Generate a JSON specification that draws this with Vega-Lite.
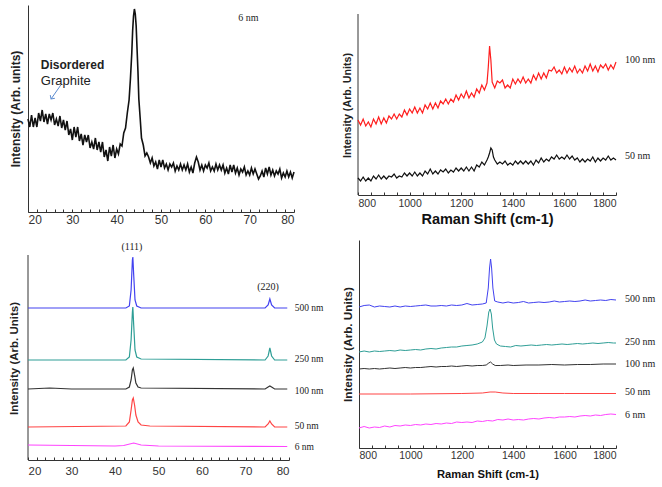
{
"$schema": "https://vega.github.io/schema/vega-lite/v6.json",
"padding": {"left": 8, "top": 5, "right": 0, "bottom": 0},
"background": "white",
"config": {
  "view": {"stroke": null},
  "axis": {"grid": false, "domainColor": "#333", "tickColor": "#333", "labelColor": "#333", "labelFont": "Liberation Sans", "titleFont": "Liberation Sans", "titleColor": "#222", "titleFontWeight": "bold"}
},
"datasets": {
"p1": [{"x":20.0,"y":93},{"x":20.4,"y":85},{"x":20.8,"y":97},{"x":21.2,"y":85},{"x":21.6,"y":94},{"x":22.0,"y":85},{"x":22.4,"y":99},{"x":22.8,"y":91},{"x":23.2,"y":102},{"x":23.6,"y":90},{"x":24.0,"y":98},{"x":24.4,"y":88},{"x":24.8,"y":98},{"x":25.2,"y":92},{"x":25.6,"y":99},{"x":26.0,"y":87},{"x":26.4,"y":93},{"x":26.8,"y":86},{"x":27.2,"y":96},{"x":27.6,"y":84},{"x":28.0,"y":92},{"x":28.4,"y":82},{"x":28.8,"y":91},{"x":29.2,"y":77},{"x":29.6,"y":83},{"x":30.0,"y":72},{"x":30.4,"y":85},{"x":30.8,"y":75},{"x":31.2,"y":85},{"x":31.6,"y":71},{"x":32.0,"y":78},{"x":32.4,"y":67},{"x":32.8,"y":77},{"x":33.2,"y":70},{"x":33.6,"y":77},{"x":34.0,"y":64},{"x":34.4,"y":70},{"x":34.8,"y":63},{"x":35.2,"y":74},{"x":35.6,"y":62},{"x":36.0,"y":70},{"x":36.4,"y":60},{"x":36.8,"y":70},{"x":37.2,"y":55},{"x":37.6,"y":62},{"x":38.0,"y":51},{"x":38.4,"y":65},{"x":38.8,"y":56},{"x":39.2,"y":67},{"x":39.6,"y":54},
{"x":40.0,"y":63},{"x":40.4,"y":58},{"x":40.8,"y":68},{"x":41.2,"y":66},{"x":41.6,"y":79},{"x":42.0,"y":84},{"x":42.4,"y":99},{"x":42.8,"y":112},{"x":43.1,"y":133},{"x":43.4,"y":158},{"x":43.6,"y":181},{"x":43.8,"y":196},{"x":44.0,"y":203},{"x":44.2,"y":198},{"x":44.4,"y":186},{"x":44.6,"y":163},{"x":44.8,"y":141},{"x":45.0,"y":113},{"x":45.3,"y":94},{"x":45.6,"y":74},{"x":46.0,"y":67},{"x":46.4,"y":56},{"x":46.8,"y":59},
{"x":47.2,"y":55},{"x":47.6,"y":49},{"x":48.0,"y":54},{"x":48.4,"y":46},{"x":48.8,"y":50},{"x":49.2,"y":43},{"x":49.6,"y":52},{"x":50.0,"y":45},{"x":50.4,"y":52},{"x":50.8,"y":44},{"x":51.2,"y":48},{"x":51.6,"y":42},{"x":52.0,"y":48},{"x":52.4,"y":45},{"x":52.8,"y":49},{"x":53.2,"y":41},{"x":53.6,"y":46},{"x":54.0,"y":42},{"x":54.4,"y":48},{"x":54.8,"y":42},{"x":55.2,"y":47},{"x":55.6,"y":42},{"x":56.0,"y":48},{"x":56.4,"y":40},{"x":56.8,"y":45},{"x":57.2,"y":39},{"x":57.6,"y":49},{"x":58.0,"y":55},{"x":58.4,"y":50},{"x":58.8,"y":42},{"x":59.2,"y":47},{"x":59.6,"y":41},{"x":60.0,"y":47},{"x":60.4,"y":44},{"x":60.8,"y":49},{"x":61.2,"y":41},{"x":61.6,"y":45},{"x":62.0,"y":41},{"x":62.4,"y":48},{"x":62.8,"y":42},{"x":63.2,"y":47},{"x":63.6,"y":42},{"x":64.0,"y":47},{"x":64.4,"y":39},{"x":64.8,"y":44},{"x":65.2,"y":38},{"x":65.6,"y":47},{"x":66.0,"y":40},{"x":66.4,"y":47},{"x":66.8,"y":39},{"x":67.2,"y":44},{"x":67.6,"y":37},{"x":68.0,"y":43},{"x":68.4,"y":40},{"x":68.8,"y":45},{"x":69.2,"y":37},{"x":69.6,"y":41},{"x":70.0,"y":37},{"x":70.4,"y":44},{"x":70.8,"y":38},{"x":71.2,"y":43},{"x":71.6,"y":38},{"x":72.0,"y":33},{"x":72.4,"y":36},{"x":72.8,"y":41},{"x":73.2,"y":35},{"x":73.6,"y":44},{"x":74.0,"y":38},{"x":74.4,"y":45},{"x":74.8,"y":37},{"x":75.2,"y":42},{"x":75.6,"y":36},{"x":76.0,"y":41},{"x":76.4,"y":38},{"x":76.8,"y":43},{"x":77.2,"y":34},{"x":77.6,"y":39},{"x":78.0,"y":35},{"x":78.4,"y":41},{"x":78.8,"y":35},{"x":79.2,"y":40},{"x":79.6,"y":34},{"x":80.0,"y":40}],
"p2r": [{"x":800,"y":75},{"x":810,"y":70},{"x":820,"y":76},{"x":830,"y":69},{"x":840,"y":73},{"x":850,"y":68},{"x":860,"y":76},{"x":870,"y":71},{"x":880,"y":78},{"x":890,"y":71},{"x":900,"y":77},{"x":910,"y":72},{"x":920,"y":79},{"x":930,"y":76},{"x":940,"y":81},{"x":950,"y":76},{"x":960,"y":81},{"x":970,"y":78},{"x":980,"y":85},{"x":990,"y":80},{"x":1000,"y":86},{"x":1010,"y":82},{"x":1020,"y":88},{"x":1030,"y":82},{"x":1040,"y":87},{"x":1050,"y":82},{"x":1060,"y":90},{"x":1070,"y":86},{"x":1080,"y":92},{"x":1090,"y":86},{"x":1100,"y":92},{"x":1110,"y":87},{"x":1120,"y":94},{"x":1130,"y":91},{"x":1140,"y":96},{"x":1150,"y":91},{"x":1160,"y":96},{"x":1170,"y":93},{"x":1180,"y":100},{"x":1190,"y":95},{"x":1200,"y":101},{"x":1210,"y":97},{"x":1220,"y":104},{"x":1230,"y":97},{"x":1240,"y":102},{"x":1250,"y":98},{"x":1260,"y":106},{"x":1270,"y":102},{"x":1280,"y":110},{"x":1290,"y":105},{"x":1300,"y":112},{"x":1305,"y":128},{"x":1310,"y":149},{"x":1315,"y":135},{"x":1320,"y":113},{"x":1330,"y":107},{"x":1340,"y":114},{"x":1350,"y":112},{"x":1360,"y":115},{"x":1370,"y":107},{"x":1380,"y":110},{"x":1390,"y":107},{"x":1400,"y":116},{"x":1410,"y":111},{"x":1420,"y":116},{"x":1430,"y":112},{"x":1440,"y":118},{"x":1450,"y":112},{"x":1460,"y":116},{"x":1470,"y":112},{"x":1480,"y":120},{"x":1490,"y":115},{"x":1500,"y":122},{"x":1510,"y":116},{"x":1520,"y":122},{"x":1530,"y":117},{"x":1540,"y":125},{"x":1550,"y":124},{"x":1560,"y":128},{"x":1570,"y":122},{"x":1580,"y":125},{"x":1590,"y":121},{"x":1600,"y":128},{"x":1610,"y":122},{"x":1620,"y":127},{"x":1630,"y":123},{"x":1640,"y":129},{"x":1650,"y":122},{"x":1660,"y":126},{"x":1670,"y":122},{"x":1680,"y":129},{"x":1690,"y":124},{"x":1700,"y":131},{"x":1710,"y":124},{"x":1720,"y":129},{"x":1730,"y":123},{"x":1740,"y":130},{"x":1750,"y":127},{"x":1760,"y":131},{"x":1770,"y":125},{"x":1780,"y":130},{"x":1790,"y":126},{"x":1800,"y":133}],
"p2b": [{"x":800,"y":17},{"x":810,"y":14},{"x":820,"y":18},{"x":830,"y":14},{"x":840,"y":17},{"x":850,"y":14},{"x":860,"y":19},{"x":870,"y":16},{"x":880,"y":20},{"x":890,"y":16},{"x":900,"y":19},{"x":910,"y":16},{"x":920,"y":19},{"x":930,"y":18},{"x":940,"y":21},{"x":950,"y":17},{"x":960,"y":19},{"x":970,"y":18},{"x":980,"y":22},{"x":990,"y":19},{"x":1000,"y":22},{"x":1010,"y":19},{"x":1020,"y":23},{"x":1030,"y":19},{"x":1040,"y":22},{"x":1050,"y":19},{"x":1060,"y":24},{"x":1070,"y":21},{"x":1080,"y":26},{"x":1090,"y":21},{"x":1100,"y":24},{"x":1110,"y":21},{"x":1120,"y":25},{"x":1130,"y":23},{"x":1140,"y":26},{"x":1150,"y":22},{"x":1160,"y":25},{"x":1170,"y":23},{"x":1180,"y":27},{"x":1190,"y":24},{"x":1200,"y":27},{"x":1210,"y":24},{"x":1220,"y":28},{"x":1230,"y":24},{"x":1240,"y":28},{"x":1250,"y":24},{"x":1260,"y":30},{"x":1270,"y":28},{"x":1280,"y":33},{"x":1290,"y":30},{"x":1300,"y":35},{"x":1305,"y":38},{"x":1310,"y":42},{"x":1315,"y":47},{"x":1320,"y":45},{"x":1325,"y":38},{"x":1330,"y":35},{"x":1340,"y":31},{"x":1350,"y":33},{"x":1360,"y":31},{"x":1370,"y":34},{"x":1380,"y":30},{"x":1390,"y":32},{"x":1400,"y":30},{"x":1410,"y":34},{"x":1420,"y":31},{"x":1430,"y":34},{"x":1440,"y":31},{"x":1450,"y":34},{"x":1460,"y":31},{"x":1470,"y":34},{"x":1480,"y":30},{"x":1490,"y":35},{"x":1500,"y":32},{"x":1510,"y":37},{"x":1520,"y":33},{"x":1530,"y":36},{"x":1540,"y":34},{"x":1550,"y":38},{"x":1560,"y":36},{"x":1570,"y":40},{"x":1580,"y":36},{"x":1590,"y":38},{"x":1600,"y":36},{"x":1610,"y":40},{"x":1620,"y":36},{"x":1630,"y":39},{"x":1640,"y":35},{"x":1650,"y":37},{"x":1660,"y":33},{"x":1670,"y":36},{"x":1680,"y":33},{"x":1690,"y":36},{"x":1700,"y":34},{"x":1710,"y":38},{"x":1720,"y":33},{"x":1730,"y":37},{"x":1740,"y":34},{"x":1750,"y":37},{"x":1760,"y":35},{"x":1770,"y":39},{"x":1780,"y":35},{"x":1790,"y":37},{"x":1800,"y":35}],
"p3": [
{"s":"500 nm","x":20,"y":152},{"s":"500 nm","x":42.5,"y":152},{"s":"500 nm","x":43.3,"y":154},{"s":"500 nm","x":43.7,"y":170},{"s":"500 nm","x":44.0,"y":200},{"s":"500 nm","x":44.1,"y":203},{"s":"500 nm","x":44.3,"y":185},{"s":"500 nm","x":44.6,"y":160},{"s":"500 nm","x":45.0,"y":154},{"s":"500 nm","x":46,"y":152},{"s":"500 nm","x":74.5,"y":152},{"s":"500 nm","x":75.2,"y":155},{"s":"500 nm","x":75.6,"y":161},{"s":"500 nm","x":76.0,"y":155},{"s":"500 nm","x":76.7,"y":152},{"s":"500 nm","x":79.6,"y":152},
{"s":"250 nm","x":20,"y":100},{"s":"250 nm","x":42.5,"y":100},{"s":"250 nm","x":43.3,"y":103},{"s":"250 nm","x":43.7,"y":120},{"s":"250 nm","x":44.0,"y":148},{"s":"250 nm","x":44.1,"y":153},{"s":"250 nm","x":44.3,"y":135},{"s":"250 nm","x":44.6,"y":110},{"s":"250 nm","x":45.0,"y":103},{"s":"250 nm","x":46,"y":101},{"s":"250 nm","x":74.5,"y":100},{"s":"250 nm","x":75.2,"y":104},{"s":"250 nm","x":75.6,"y":112},{"s":"250 nm","x":76.0,"y":104},{"s":"250 nm","x":76.7,"y":100},{"s":"250 nm","x":79.6,"y":100},
{"s":"100 nm","x":20,"y":71},{"s":"100 nm","x":25,"y":72},{"s":"100 nm","x":30,"y":71},{"s":"100 nm","x":42.5,"y":71},{"s":"100 nm","x":43.3,"y":73},{"s":"100 nm","x":43.7,"y":80},{"s":"100 nm","x":44.0,"y":90},{"s":"100 nm","x":44.2,"y":92},{"s":"100 nm","x":44.5,"y":85},{"s":"100 nm","x":44.8,"y":77},{"s":"100 nm","x":45.3,"y":73},{"s":"100 nm","x":46,"y":72},{"s":"100 nm","x":74.5,"y":71},{"s":"100 nm","x":75.2,"y":73},{"s":"100 nm","x":75.6,"y":74},{"s":"100 nm","x":76.0,"y":73},{"s":"100 nm","x":76.7,"y":71},{"s":"100 nm","x":79.6,"y":71},
{"s":"50 nm","x":20,"y":33},{"s":"50 nm","x":42.5,"y":34},{"s":"50 nm","x":43.3,"y":38},{"s":"50 nm","x":43.7,"y":50},{"s":"50 nm","x":44.0,"y":60},{"s":"50 nm","x":44.2,"y":62},{"s":"50 nm","x":44.5,"y":55},{"s":"50 nm","x":44.8,"y":45},{"s":"50 nm","x":45.3,"y":38},{"s":"50 nm","x":46,"y":35},{"s":"50 nm","x":48,"y":34},{"s":"50 nm","x":74.5,"y":33},{"s":"50 nm","x":75.2,"y":36},{"s":"50 nm","x":75.6,"y":39},{"s":"50 nm","x":76.0,"y":36},{"s":"50 nm","x":76.7,"y":33},{"s":"50 nm","x":79.6,"y":33},
{"s":"6 nm","x":20,"y":15},{"s":"6 nm","x":30,"y":14.5},{"s":"6 nm","x":40,"y":14},{"s":"6 nm","x":42,"y":14.5},{"s":"6 nm","x":44.3,"y":17},{"s":"6 nm","x":46,"y":15},{"s":"6 nm","x":50,"y":14},{"s":"6 nm","x":79.6,"y":13.5}],
"p4": [
{"s":"500 nm","x":800,"y":141},{"s":"500 nm","x":820,"y":142.5},{"s":"500 nm","x":840,"y":143},{"s":"500 nm","x":860,"y":141},{"s":"500 nm","x":880,"y":142},{"s":"500 nm","x":900,"y":141.5},{"s":"500 nm","x":920,"y":141},{"s":"500 nm","x":940,"y":142},{"s":"500 nm","x":960,"y":141},{"s":"500 nm","x":980,"y":142},{"s":"500 nm","x":1000,"y":141.5},{"s":"500 nm","x":1020,"y":142},{"s":"500 nm","x":1040,"y":142.5},{"s":"500 nm","x":1060,"y":143},{"s":"500 nm","x":1080,"y":142},{"s":"500 nm","x":1100,"y":142},{"s":"500 nm","x":1120,"y":142.5},{"s":"500 nm","x":1140,"y":142},{"s":"500 nm","x":1160,"y":143},{"s":"500 nm","x":1180,"y":142.5},{"s":"500 nm","x":1200,"y":143},{"s":"500 nm","x":1220,"y":144.5},{"s":"500 nm","x":1240,"y":143},{"s":"500 nm","x":1260,"y":143.5},{"s":"500 nm","x":1280,"y":144},{"s":"500 nm","x":1295,"y":145},{"s":"500 nm","x":1303,"y":160},{"s":"500 nm","x":1308,"y":180},{"s":"500 nm","x":1312,"y":189},{"s":"500 nm","x":1316,"y":180},{"s":"500 nm","x":1321,"y":160},{"s":"500 nm","x":1328,"y":147},{"s":"500 nm","x":1340,"y":146},{"s":"500 nm","x":1360,"y":145},{"s":"500 nm","x":1380,"y":146},{"s":"500 nm","x":1400,"y":145},{"s":"500 nm","x":1420,"y":145.5},{"s":"500 nm","x":1440,"y":146.5},{"s":"500 nm","x":1460,"y":145},{"s":"500 nm","x":1480,"y":145.5},{"s":"500 nm","x":1500,"y":146},{"s":"500 nm","x":1520,"y":145.5},{"s":"500 nm","x":1540,"y":146},{"s":"500 nm","x":1560,"y":147},{"s":"500 nm","x":1580,"y":146},{"s":"500 nm","x":1600,"y":146.5},{"s":"500 nm","x":1620,"y":147},{"s":"500 nm","x":1640,"y":146.5},{"s":"500 nm","x":1660,"y":147},{"s":"500 nm","x":1680,"y":148},{"s":"500 nm","x":1700,"y":147},{"s":"500 nm","x":1720,"y":147.5},{"s":"500 nm","x":1740,"y":148},{"s":"500 nm","x":1760,"y":147.5},{"s":"500 nm","x":1780,"y":148.5},{"s":"500 nm","x":1800,"y":148},
{"s":"250 nm","x":800,"y":96},{"s":"250 nm","x":820,"y":97},{"s":"250 nm","x":840,"y":96},{"s":"250 nm","x":860,"y":97},{"s":"250 nm","x":880,"y":96.5},{"s":"250 nm","x":900,"y":97},{"s":"250 nm","x":920,"y":97.5},{"s":"250 nm","x":940,"y":97},{"s":"250 nm","x":960,"y":98},{"s":"250 nm","x":980,"y":97.5},{"s":"250 nm","x":1000,"y":98},{"s":"250 nm","x":1020,"y":98.5},{"s":"250 nm","x":1040,"y":98},{"s":"250 nm","x":1060,"y":99},{"s":"250 nm","x":1080,"y":99.5},{"s":"250 nm","x":1100,"y":99},{"s":"250 nm","x":1120,"y":100},{"s":"250 nm","x":1140,"y":100.5},{"s":"250 nm","x":1160,"y":101},{"s":"250 nm","x":1180,"y":101},{"s":"250 nm","x":1200,"y":102},{"s":"250 nm","x":1220,"y":102.5},{"s":"250 nm","x":1240,"y":103},{"s":"250 nm","x":1260,"y":104},{"s":"250 nm","x":1280,"y":106},{"s":"250 nm","x":1290,"y":110},{"s":"250 nm","x":1298,"y":122},{"s":"250 nm","x":1305,"y":136},{"s":"250 nm","x":1310,"y":139},{"s":"250 nm","x":1315,"y":134},{"s":"250 nm","x":1320,"y":120},{"s":"250 nm","x":1327,"y":108},{"s":"250 nm","x":1335,"y":104},{"s":"250 nm","x":1350,"y":102},{"s":"250 nm","x":1370,"y":101.5},{"s":"250 nm","x":1390,"y":101},{"s":"250 nm","x":1410,"y":102.5},{"s":"250 nm","x":1430,"y":102},{"s":"250 nm","x":1450,"y":102.5},{"s":"250 nm","x":1470,"y":103},{"s":"250 nm","x":1490,"y":102.5},{"s":"250 nm","x":1510,"y":103},{"s":"250 nm","x":1530,"y":103.5},{"s":"250 nm","x":1550,"y":103},{"s":"250 nm","x":1570,"y":103.5},{"s":"250 nm","x":1590,"y":104},{"s":"250 nm","x":1610,"y":103.5},{"s":"250 nm","x":1630,"y":104},{"s":"250 nm","x":1650,"y":104.5},{"s":"250 nm","x":1670,"y":104},{"s":"250 nm","x":1690,"y":104.5},{"s":"250 nm","x":1710,"y":105},{"s":"250 nm","x":1730,"y":104.5},{"s":"250 nm","x":1750,"y":105},{"s":"250 nm","x":1770,"y":105.5},{"s":"250 nm","x":1790,"y":105},{"s":"250 nm","x":1800,"y":105},
{"s":"100 nm","x":800,"y":79},{"s":"100 nm","x":820,"y":79.5},{"s":"100 nm","x":840,"y":79},{"s":"100 nm","x":860,"y":79.5},{"s":"100 nm","x":880,"y":79},{"s":"100 nm","x":900,"y":79.5},{"s":"100 nm","x":920,"y":80},{"s":"100 nm","x":940,"y":79.5},{"s":"100 nm","x":960,"y":80},{"s":"100 nm","x":980,"y":80.5},{"s":"100 nm","x":1000,"y":80},{"s":"100 nm","x":1020,"y":80.5},{"s":"100 nm","x":1040,"y":80.5},{"s":"100 nm","x":1060,"y":81},{"s":"100 nm","x":1080,"y":81.5},{"s":"100 nm","x":1100,"y":81},{"s":"100 nm","x":1120,"y":81.5},{"s":"100 nm","x":1140,"y":81.5},{"s":"100 nm","x":1160,"y":82},{"s":"100 nm","x":1180,"y":81.5},{"s":"100 nm","x":1200,"y":82},{"s":"100 nm","x":1220,"y":82.5},{"s":"100 nm","x":1240,"y":82},{"s":"100 nm","x":1260,"y":82.5},{"s":"100 nm","x":1280,"y":82.5},{"s":"100 nm","x":1295,"y":83},{"s":"100 nm","x":1305,"y":85},{"s":"100 nm","x":1312,"y":86},{"s":"100 nm","x":1320,"y":84},{"s":"100 nm","x":1330,"y":82.5},{"s":"100 nm","x":1350,"y":82.5},{"s":"100 nm","x":1380,"y":83},{"s":"100 nm","x":1400,"y":82.5},{"s":"100 nm","x":1450,"y":83},{"s":"100 nm","x":1500,"y":83},{"s":"100 nm","x":1550,"y":83.5},{"s":"100 nm","x":1600,"y":83},{"s":"100 nm","x":1650,"y":83.5},{"s":"100 nm","x":1700,"y":83.5},{"s":"100 nm","x":1750,"y":84},{"s":"100 nm","x":1800,"y":84},
{"s":"50 nm","x":800,"y":54},{"s":"50 nm","x":1000,"y":54},{"s":"50 nm","x":1200,"y":54.5},{"s":"50 nm","x":1280,"y":55},{"s":"50 nm","x":1310,"y":56},{"s":"50 nm","x":1330,"y":56},{"s":"50 nm","x":1360,"y":55},{"s":"50 nm","x":1400,"y":54.5},{"s":"50 nm","x":1500,"y":54.5},{"s":"50 nm","x":1600,"y":54.5},{"s":"50 nm","x":1800,"y":54.5},
{"s":"6 nm","x":800,"y":20},{"s":"6 nm","x":820,"y":21.5},{"s":"6 nm","x":840,"y":20},{"s":"6 nm","x":860,"y":21},{"s":"6 nm","x":880,"y":20.5},{"s":"6 nm","x":900,"y":22},{"s":"6 nm","x":920,"y":21},{"s":"6 nm","x":940,"y":22.5},{"s":"6 nm","x":960,"y":22},{"s":"6 nm","x":980,"y":23},{"s":"6 nm","x":1000,"y":22.5},{"s":"6 nm","x":1020,"y":23.5},{"s":"6 nm","x":1040,"y":23},{"s":"6 nm","x":1060,"y":24},{"s":"6 nm","x":1080,"y":23.5},{"s":"6 nm","x":1100,"y":24.5},{"s":"6 nm","x":1120,"y":24},{"s":"6 nm","x":1140,"y":25},{"s":"6 nm","x":1160,"y":24.5},{"s":"6 nm","x":1180,"y":26},{"s":"6 nm","x":1200,"y":25.5},{"s":"6 nm","x":1220,"y":26},{"s":"6 nm","x":1240,"y":25.5},{"s":"6 nm","x":1260,"y":27},{"s":"6 nm","x":1280,"y":26.5},{"s":"6 nm","x":1300,"y":27.5},{"s":"6 nm","x":1320,"y":27},{"s":"6 nm","x":1340,"y":28.5},{"s":"6 nm","x":1360,"y":28},{"s":"6 nm","x":1380,"y":29},{"s":"6 nm","x":1400,"y":28},{"s":"6 nm","x":1420,"y":28.5},{"s":"6 nm","x":1440,"y":28},{"s":"6 nm","x":1460,"y":29},{"s":"6 nm","x":1480,"y":29.5},{"s":"6 nm","x":1500,"y":29},{"s":"6 nm","x":1520,"y":30},{"s":"6 nm","x":1540,"y":30.5},{"s":"6 nm","x":1560,"y":30},{"s":"6 nm","x":1580,"y":31},{"s":"6 nm","x":1600,"y":31},{"s":"6 nm","x":1620,"y":31.5},{"s":"6 nm","x":1640,"y":31},{"s":"6 nm","x":1660,"y":32},{"s":"6 nm","x":1680,"y":32.5},{"s":"6 nm","x":1700,"y":32},{"s":"6 nm","x":1720,"y":33},{"s":"6 nm","x":1740,"y":32.5},{"s":"6 nm","x":1760,"y":33.5},{"s":"6 nm","x":1780,"y":34},{"s":"6 nm","x":1800,"y":33.5}]
},
"spacing": 14,
"vconcat": [
{"hconcat": [
 {"width": 266, "height": 207,
  "encoding": {
   "x": {"field": "x", "type": "quantitative", "scale": {"domain": [20, 80], "nice": false, "zero": false},
         "axis": {"title": null, "values": [20,22,24,26,28,30,32,34,36,38,40,42,44,46,48,50,52,54,56,58,60,62,64,66,68,70,72,74,76,78,80], "labelExpr": "datum.value % 10 == 0 ? datum.label : ''", "labelOverlap": false, "tickSize": -3, "labelFontSize": 12, "labelPadding": 5}},
   "y": {"field": "y", "type": "quantitative", "scale": {"domain": [0, 207], "nice": false},
         "axis": {"title": "Intensity (Arb. units)", "labels": false, "ticks": false, "titleFontSize": 12, "titlePadding": 6}}
  },
  "layer": [
   {"data": {"name": "p1"}, "mark": {"type": "line", "color": "#111", "strokeWidth": 1.6}},
   {"data": {"values": [{"x": 67.4, "y": 194, "t": "6 nm"}]}, "mark": {"type": "text", "font": "Liberation Serif", "fontSize": 10, "align": "left", "baseline": "middle", "color": "#222"}, "encoding": {"text": {"field": "t"}}},
   {"data": {"values": [{"x": 22.9, "y": 147, "t": "Disordered"}]}, "mark": {"type": "text", "font": "Liberation Sans", "fontSize": 12, "fontWeight": "bold", "align": "left", "baseline": "middle", "color": "#222"}, "encoding": {"text": {"field": "t"}}},
   {"data": {"values": [{"x": 22.9, "y": 131, "t": "Graphite"}]}, "mark": {"type": "text", "font": "Liberation Sans", "fontSize": 13, "align": "left", "baseline": "middle", "color": "#222"}, "encoding": {"text": {"field": "t"}}},
   {"data": {"values": [{"x": 27.4, "y": 127, "x2": 25.2, "y2": 113}]}, "mark": {"type": "rule", "color": "#5b8bd0", "strokeWidth": 1}, "encoding": {"x2": {"field": "x2"}, "y2": {"field": "y2"}}},
   {"data": {"values": [{"x": 25.2, "y": 113}]}, "mark": {"type": "point", "shape": "M-1,1L0,0L1,1", "filled": false, "stroke": "#5b8bd0", "strokeWidth": 1, "size": 30, "angle": 213, "opacity": 1}}
  ]
 },
 {"width": 258, "height": 190,
  "encoding": {
   "x": {"field": "x", "type": "quantitative", "scale": {"domain": [800, 1800], "nice": false, "zero": false},
         "axis": {"title": "Raman Shift (cm-1)", "titleFontSize": 14.5, "titleColor": "#111", "titlePadding": 4, "format": "d", "values": [800,850,900,950,1000,1050,1100,1150,1200,1250,1300,1350,1400,1450,1500,1550,1600,1650,1700,1750,1800], "labelExpr": "datum.value % 200 == 0 ? datum.label : ''", "labelOverlap": false, "tickSize": -3, "labelFontSize": 10.5, "labelPadding": 6}},
   "y": {"field": "y", "type": "quantitative", "scale": {"domain": [0, 190], "nice": false},
         "axis": {"title": "Intensity (Arb. Units)", "labels": false, "ticks": false, "domain": false, "titleFontSize": 10.7, "titlePadding": 6, "titleY": 100}}
  },
  "layer": [
   {"data": {"values": [{"x": 800, "y": 0, "y2": 181}]}, "mark": {"type": "rule", "color": "#333", "strokeWidth": 1}, "encoding": {"y2": {"field": "y2"}}},
   {"data": {"name": "p2r"}, "mark": {"type": "line", "color": "#ff1e1e", "strokeWidth": 1.2}},
   {"data": {"name": "p2b"}, "mark": {"type": "line", "color": "#111", "strokeWidth": 1.2}},
   {"data": {"values": [{"x": 1835, "y": 135, "t": "100 nm"}, {"x": 1835, "y": 39, "t": "50 nm"}]}, "mark": {"type": "text", "font": "Liberation Serif", "fontSize": 10, "align": "left", "baseline": "middle", "color": "#222"}, "encoding": {"text": {"field": "t"}}}
  ]
 }
], "spacing": 43},
{"hconcat": [
 {"width": 261, "height": 220,
  "encoding": {
   "x": {"field": "x", "type": "quantitative", "scale": {"domain": [20, 80], "nice": false, "zero": false},
         "axis": {"title": null, "values": [20,22,24,26,28,30,32,34,36,38,40,42,44,46,48,50,52,54,56,58,60,62,64,66,68,70,72,74,76,78,80], "labelExpr": "datum.value % 10 == 0 ? datum.label : ''", "labelOverlap": false, "tickSize": -3, "labelFontSize": 11.5, "labelPadding": 8}},
   "y": {"field": "y", "type": "quantitative", "scale": {"domain": [0, 220], "nice": false},
         "axis": {"title": "Intensity (Arb. Units)", "labels": false, "ticks": false, "domain": false, "titleFontSize": 11.5, "titlePadding": 9, "titleY": 118}}
  },
  "layer": [
   {"data": {"values": [{"x": 20, "y": 0, "y2": 205}]}, "mark": {"type": "rule", "color": "#333", "strokeWidth": 1}, "encoding": {"y2": {"field": "y2"}}},
   {"data": {"name": "p3"}, "mark": {"type": "line", "strokeWidth": 1.2},
    "encoding": {"color": {"field": "s", "type": "nominal", "legend": null, "scale": {"domain": ["500 nm", "250 nm", "100 nm", "50 nm", "6 nm"], "range": ["#4242f0", "#2e9e96", "#333333", "#ff4444", "#ff44ff"]}}}},
   {"data": {"values": [{"x": 81.3, "y": 152, "t": "500 nm"}, {"x": 81.3, "y": 101, "t": "250 nm"}, {"x": 81.3, "y": 69, "t": "100 nm"}, {"x": 81.3, "y": 34, "t": "50 nm"}, {"x": 81.3, "y": 13, "t": "6 nm"}]}, "mark": {"type": "text", "font": "Liberation Serif", "fontSize": 9.5, "align": "left", "baseline": "middle", "color": "#222"}, "encoding": {"text": {"field": "t"}}},
   {"data": {"values": [{"x": 43.9, "y": 213, "t": "(111)"}, {"x": 75.2, "y": 173, "t": "(220)"}]}, "mark": {"type": "text", "font": "Liberation Serif", "fontSize": 10, "align": "center", "baseline": "middle", "color": "#222"}, "encoding": {"text": {"field": "t"}}}
  ]
 },
 {"width": 257, "height": 208,
  "encoding": {
   "x": {"field": "x", "type": "quantitative", "scale": {"domain": [800, 1800], "nice": false, "zero": false},
         "axis": {"title": "Raman Shift (cm-1)", "titleFontSize": 11.2, "titleColor": "#111", "titlePadding": 8, "format": "d", "values": [800,850,900,950,1000,1050,1100,1150,1200,1250,1300,1350,1400,1450,1500,1550,1600,1650,1700,1750,1800], "labelExpr": "datum.value % 200 == 0 ? datum.label : ''", "labelOverlap": false, "tickSize": -3, "labelFontSize": 10.5, "labelPadding": 5}},
   "y": {"field": "y", "type": "quantitative", "scale": {"domain": [0, 208], "nice": false},
         "axis": {"title": "Intensity (Arb. Units)", "labels": false, "ticks": false, "titleFontSize": 11.7, "titlePadding": 6}}
  },
  "layer": [
   {"data": {"name": "p4"}, "mark": {"type": "line", "strokeWidth": 1},
    "encoding": {"color": {"field": "s", "type": "nominal", "legend": null, "scale": {"domain": ["500 nm", "250 nm", "100 nm", "50 nm", "6 nm"], "range": ["#4242f0", "#2e9e96", "#333333", "#ff4444", "#ff44ff"]}}}},
   {"data": {"values": [{"x": 1835, "y": 149, "t": "500 nm"}, {"x": 1835, "y": 106, "t": "250 nm"}, {"x": 1835, "y": 84, "t": "100 nm"}, {"x": 1835, "y": 56, "t": "50 nm"}, {"x": 1835, "y": 33, "t": "6 nm"}]}, "mark": {"type": "text", "font": "Liberation Serif", "fontSize": 10, "align": "left", "baseline": "middle", "color": "#222"}, "encoding": {"text": {"field": "t"}}}
  ]
 }
], "spacing": 18}
]
}
